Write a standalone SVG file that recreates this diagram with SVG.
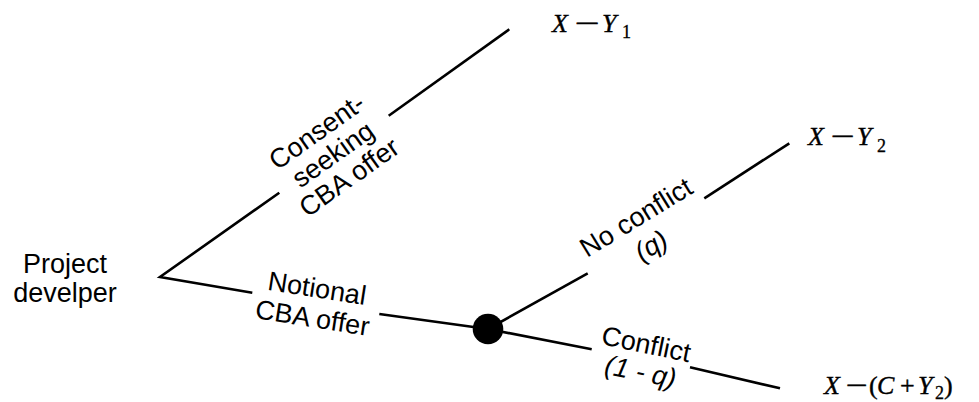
<svg xmlns="http://www.w3.org/2000/svg" width="979" height="402" viewBox="0 0 979 402">
<style>
.ln{stroke:#000;stroke-width:2.6;fill:none;stroke-linecap:butt}
.lbl{font-family:"Liberation Sans",Arial,sans-serif;font-size:27px;fill:#000;text-anchor:middle}
.it{font-style:italic}
.m{font-family:"Liberation Serif","Times New Roman",serif;font-size:26px;font-style:italic;fill:#000;stroke:#000;stroke-width:0.4}
.mu{font-family:"Liberation Serif","Times New Roman",serif;font-size:26px;fill:#000;stroke:#000;stroke-width:0.4}
.sub{font-family:"Liberation Serif","Times New Roman",serif;font-size:18px;fill:#000;stroke:#000;stroke-width:0.3}
</style>
<rect width="979" height="402" fill="#fff"/>
<g id="connectors">
<path class="ln" d="M279.3,192.7 L160,277 L252.3,292.7"/>
<line class="ln" x1="388.7" y1="115.7" x2="509.3" y2="29.3"/>
<line class="ln" x1="379.3" y1="314" x2="488" y2="329"/>
<line class="ln" x1="488" y1="329" x2="587.7" y2="273.3"/>
<line class="ln" x1="704.3" y1="198.3" x2="789.3" y2="143.3"/>
<line class="ln" x1="488" y1="329" x2="591.7" y2="349.3"/>
<line class="ln" x1="690" y1="367.3" x2="780" y2="388.3"/>
</g>
<g id="label-consent" transform="translate(333,154.5) rotate(-35.3)">
<text class="lbl" x="0" y="-19">Consent-</text>
<text class="lbl" x="0" y="9">seeking</text>
<text class="lbl" x="0" y="37">CBA offer</text>
</g>
<g id="label-notional" transform="translate(315,301.3) rotate(8.9)">
<text class="lbl" x="0" y="-4">Notional</text>
<text class="lbl" x="0" y="26">CBA offer</text>
</g>
<g id="label-noconflict" transform="translate(645,232) rotate(-31.5)">
<text class="lbl" x="0" y="-8">No conflict</text>
<text class="lbl it" x="-2" y="24">(q)</text>
</g>
<g id="label-conflict" transform="translate(643,360) rotate(11.6)">
<text class="lbl" x="0" y="-7">Conflict</text>
<text class="lbl it" x="0" y="21">(1 - q)</text>
</g>
<g id="node-root">
<text class="lbl" x="65" y="273">Project</text>
<text class="lbl" x="65" y="302">develper</text>
</g>
<g id="node-chance">
<circle cx="488" cy="329" r="15.3" fill="#000"/>
</g>
<g id="node-outcome1">
<text class="m" x="552" y="31.5">X</text>
<text class="mu" x="575" y="31.5" textLength="25" lengthAdjust="spacingAndGlyphs">−</text>
<text class="m" x="602" y="31.5">Y</text>
<text class="sub" x="622" y="38">1</text>
</g>
<g id="node-outcome2">
<text class="m" x="808" y="144.7">X</text>
<text class="mu" x="831" y="144.7" textLength="24" lengthAdjust="spacingAndGlyphs">−</text>
<text class="m" x="857" y="144.7">Y</text>
<text class="sub" x="877" y="151.5">2</text>
</g>
<g id="node-outcome3">
<text class="m" x="824" y="394">X</text>
<text class="mu" x="846" y="394" textLength="22" lengthAdjust="spacingAndGlyphs">−</text>
<text class="mu" x="869" y="394">(</text>
<text class="m" x="877" y="394">C</text>
<text class="mu" x="900" y="394">+</text>
<text class="m" x="918" y="394">Y</text>
<text class="sub" x="935" y="398.5">2</text>
<text class="mu" x="944" y="394">)</text>
</g>
</svg>
